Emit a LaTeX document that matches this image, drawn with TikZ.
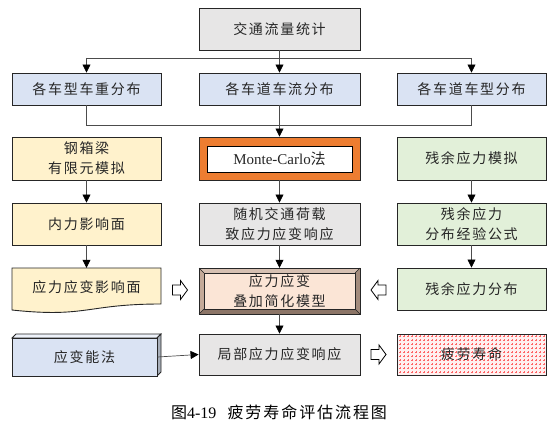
\documentclass[tikz,border=0pt]{standalone}
\usepackage{fontspec}
\setmainfont{Liberation Serif}
\newfontfamily\cjk[LetterSpace=12]{Noto Sans CJK SC}
\newfontfamily\cjkcap[LetterSpace=12]{Noto Sans CJK SC}
\usetikzlibrary{arrows.meta}
\definecolor{grayc}{HTML}{E7E6E6}
\definecolor{bluec}{HTML}{DAE3F3}
\definecolor{yellowc}{HTML}{FFF2CC}
\definecolor{greenc}{HTML}{E2F0D9}
\definecolor{orangec}{HTML}{ED7D31}
\definecolor{peachc}{HTML}{FBE5D6}
\definecolor{textc}{HTML}{262626}
\definecolor{bevtop}{HTML}{D6C0B2}
\definecolor{bevleft}{HTML}{C4AA99}
\definecolor{bevbot}{HTML}{8C7567}
\definecolor{bevright}{HTML}{A38B7C}
\definecolor{cubetop}{HTML}{EEF2FA}
\definecolor{cubeside}{HTML}{A7AEB8}
\newcommand{\boxfont}{\cjk\fontsize{14pt}{20pt}\selectfont\color{textc}}
\tikzset{
  box/.style={draw=black!85, line width=0.9pt, minimum height=42pt, inner sep=0pt, align=center, font=\boxfont},
  lw/.style={minimum width=149pt},
  mw/.style={minimum width=161pt},
  ghost/.style={inner sep=0pt, align=center, font=\boxfont},
  conn/.style={draw=black!70, line width=0.7pt},
  arr/.style={conn, -{Triangle[width=8pt,length=8pt,color=black]}},
  harrow/.pic={\draw[fill=white, line width=0.8pt, line join=miter] (-7.5,-5) -- (0.5,-5) -- (0.5,-9.5) -- (7.5,0) -- (0.5,9.5) -- (0.5,5) -- (-7.5,5) -- cycle;}
}
\begin{document}
\begin{tikzpicture}[x=1pt,y=-1pt]
\useasboundingbox (0,0) rectangle (553,427);
% row 1
\node[box, mw, fill=grayc] (top) at (279.5,29) {交通流量统计};
% row 2
\node[box, lw, fill=bluec, minimum height=32pt] (r2l) at (86.5,89) {各车型车重分布};
\node[box, mw, fill=bluec, minimum height=32pt] (r2m) at (279.5,89) {各车道车流分布};
\node[box, lw, fill=bluec, minimum height=32pt] (r2r) at (471.5,89) {各车道车型分布};
% row 3
\node[box, lw, fill=yellowc, minimum height=43pt] (r3l) at (86.5,158.5) {钢箱梁\\有限元模拟};
\node[box, mw, fill=orangec, minimum height=43pt] (r3m) at (279.5,158.5) {};
\node[draw=black, line width=0.9pt, fill=white, minimum width=145pt, minimum height=26pt, inner sep=0pt, font=\fontsize{15pt}{16pt}\selectfont\color{textc}] (mc) at (279.5,159) {Monte-Carlo{\cjk 法}};
\node[box, lw, fill=greenc, minimum height=43pt] (r3r) at (471.5,158.5) {残余应力模拟};
% row 4
\node[box, lw, fill=yellowc] (r4l) at (86.5,224) {内力影响面};
\node[box, mw, fill=grayc] (r4m) at (279.5,224) {随机交通荷载\\致应力应变响应};
\node[box, lw, fill=greenc] (r4r) at (471.5,224) {残余应力\\分布经验公式};
% row 5 : document shape
\draw[fill=yellowc, draw=black!85, line width=0.9pt] (12,268) -- (161,268) -- (161,304) .. controls (86.5,304) and (86.5,318) .. (12,310) -- cycle;
\node[ghost, minimum width=149pt, minimum height=38pt] (r5l) at (86.5,287) {应力应变影响面};
% row 5 : bevel
\fill[black!75] (199,268) rectangle (360,314);
\fill[bevtop] (199,268) -- (360,268) -- (355,273) -- (204,273) -- cycle;
\fill[bevleft] (199,268) -- (204,273) -- (204,309) -- (199,314) -- cycle;
\fill[bevbot] (199,314) -- (204,309) -- (355,309) -- (360,314) -- cycle;
\fill[bevright] (360,268) -- (355,273) -- (355,309) -- (360,314) -- cycle;
\draw[black!85, line width=0.9pt] (199,268) rectangle (360,314);
\draw[black!85, line width=0.6pt, fill=peachc] (204,273) rectangle (355,309);
\draw[black!85, line width=0.4pt] (199,268) -- (204,273) (360,268) -- (355,273) (199,314) -- (204,309) (360,314) -- (355,309);
\node[ghost, minimum width=161pt, minimum height=46pt] (r5m) at (279.5,291) {应力应变\\叠加简化模型};
\node[box, lw, fill=greenc] (r5r) at (471.5,289) {残余应力分布};
% row 6 : 3D box
\filldraw[fill=cubetop, draw=black!85, line width=0.8pt] (12,338) -- (16,334) -- (161,334) -- (157,338) -- cycle;
\filldraw[fill=cubeside, draw=black!85, line width=0.8pt] (157,338) -- (161,334) -- (161,372) -- (157,376) -- cycle;
\node[box, fill=bluec, minimum width=145pt, minimum height=38pt] (r6l) at (84.5,357) {应变能法};
\node[box, mw, fill=grayc, minimum height=41pt] (r6m) at (279.5,354.5) {局部应力应变响应};
% fatigue
\fill[red!6] (397,334) rectangle (546,375);
\begin{scope}
\clip (397,334) rectangle (546,375);
\draw[red!60, line width=0.8pt, dash pattern=on 2.2pt off 1.8pt] (395,332) grid[step=4pt] (548,377);
\end{scope}
\node[box, lw, minimum height=41pt] (r6r) at (471.5,354.5) {疲劳寿命};
% connectors
\coordinate (j1) at (279.5,58);
\draw[conn] (top.south) -- (j1);
\draw[conn] (r2l.north |- j1) -- (r2r.north |- j1);
\draw[arr] (r2l.north |- j1) -- (r2l.north);
\draw[arr] (j1) -- (r2m.north);
\draw[arr] (r2r.north |- j1) -- (r2r.north);
\coordinate (j2) at (279.5,125);
\draw[conn] (r2l.south) |- (j2);
\draw[conn] (r2r.south) |- (j2);
\draw[arr] (r2m.south) -- (r3m.north);
\draw[arr] (r3l) -- (r4l);
\draw[arr] (r4l) -- (r5l);
\draw[arr] (r3m) -- (r4m);
\draw[arr] (r4m.south) -- (r5m.north);
\draw[arr] (r5m.south) -- (r6m.north);
\draw[arr] (r3r) -- (r4r);
\draw[arr] (r4r) -- (r5r);
\draw[arr] (r6l.east) -- (r6m.west);
% hollow arrows
\pic at (180,290) {harrow};
\pic[rotate=180] at (378.5,290) {harrow};
\pic at (378.5,354.5) {harrow};
% caption
\node[inner sep=0pt, font=\fontsize{16pt}{18pt}\selectfont] (cap) at (279,412) {{\cjkcap 图}4-19\hspace{0.7em}{\cjkcap 疲劳寿命评估流程图}};
\end{tikzpicture}
\end{document}
